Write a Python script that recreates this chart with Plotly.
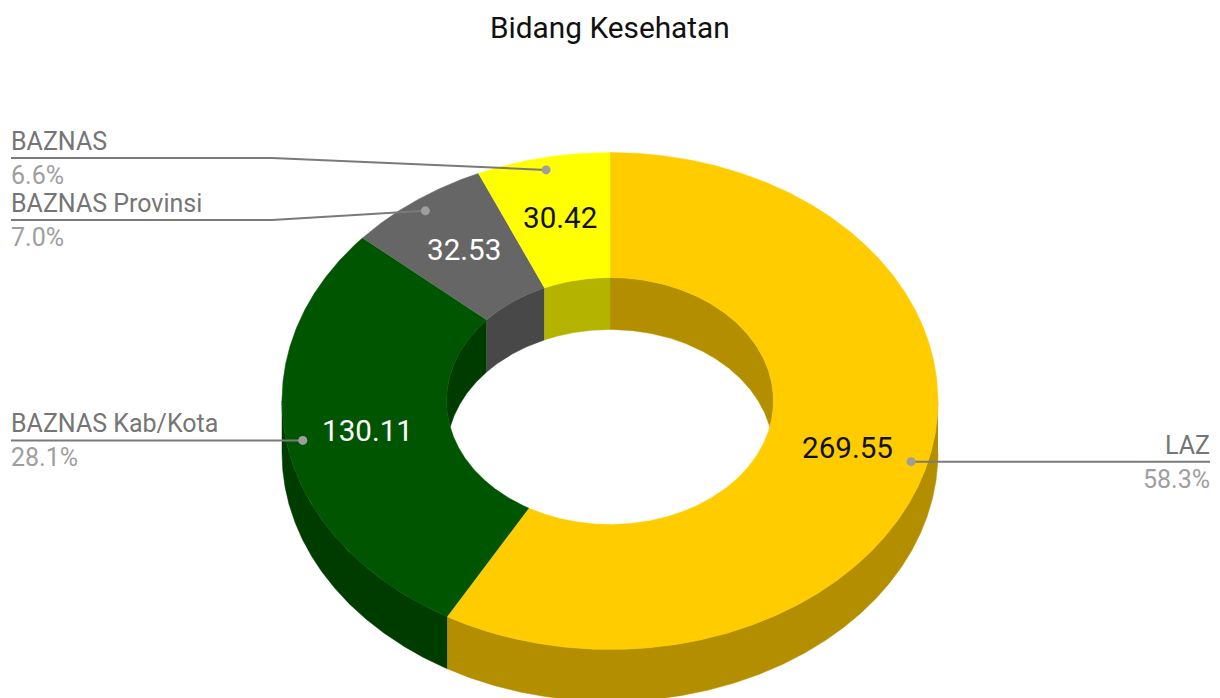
import numpy as np
import plotly.graph_objects as go

title = "Bidang Kesehatan"
categories = ["LAZ", "BAZNAS Kab/Kota", "BAZNAS Provinsi", "BAZNAS"]
values = [269.55, 130.11, 32.53, 30.42]
top_colors = ["#ffcc00", "#005500", "#666666", "#ffff00"]
side_colors = ["#b38f00", "#003c00", "#484848", "#b3b300"]
value_text_colors = ["#111111", "#ffffff", "#ffffff", "#111111"]

W, H = 1220, 698
CX, CY = 610, 401
RX, RY = 328, 248.5
IRX, IRY = 163.5, 123.5
DEPTH = 52
FONT = "Roboto"

total = sum(values)
edges = np.concatenate([[0], np.cumsum(values)]) / total * 2 * np.pi

fig = go.Figure()


def ang(a, b):
    n = max(3, int(abs(b - a) / 0.005))
    return np.linspace(a, b, n)


def add_poly(x, y, color):
    fig.add_trace(go.Scatter(
        x=x, y=y, mode="lines", fill="toself", fillcolor=color,
        line=dict(color=color, width=0.5), hoverinfo="skip", showlegend=False))


# outer wall (front half only)
for i in range(len(values)):
    a, b = max(edges[i], np.pi / 2), min(edges[i + 1], 3 * np.pi / 2)
    if b > a:
        t = ang(a, b)
        xs = CX + RX * np.sin(t)
        ys = CY - RY * np.cos(t)
        add_poly(np.r_[xs, xs[::-1]], np.r_[ys, ys[::-1] + DEPTH], side_colors[i])

# inner wall (back half only, clipped to the hole)
for i in range(len(values)):
    ranges = [(edges[i], min(edges[i + 1], np.pi / 2)),
              (max(edges[i], 3 * np.pi / 2), edges[i + 1])]
    for a, b in ranges:
        if b > a:
            t = ang(a, b)
            xs = CX + IRX * np.sin(t)
            y_top = CY - IRY * np.cos(t)
            y_bot = np.minimum(y_top + DEPTH, CY + IRY * np.cos(t))
            add_poly(np.r_[xs, xs[::-1]], np.r_[y_top, y_bot[::-1]], side_colors[i])

# top face
for i in range(len(values)):
    t = ang(edges[i], edges[i + 1])
    add_poly(np.r_[CX + RX * np.sin(t), CX + IRX * np.sin(t[::-1])],
             np.r_[CY - RY * np.cos(t), CY - IRY * np.cos(t[::-1])], top_colors[i])

# leaders and labels
mids = (edges[:-1] + edges[1:]) / 2
dot_x = CX + 0.95 * RX * np.sin(mids)
dot_y = CY - 0.95 * RY * np.cos(mids)
rule_y = [None, None, 220, 158]
for i in range(len(values)):
    right = np.sin(mids[i]) > 0
    ry = rule_y[i] if rule_y[i] is not None else dot_y[i]
    if right:
        lx, ly = [dot_x[i], 1210], [dot_y[i], dot_y[i]]
    else:
        lx, ly = [11, 272, dot_x[i]], [ry, ry, dot_y[i]]
    fig.add_trace(go.Scatter(x=lx, y=ly, mode="lines", line=dict(color="#7a7a7a", width=2),
                             hoverinfo="skip", showlegend=False))
    fig.add_trace(go.Scatter(x=[dot_x[i]], y=[dot_y[i]], mode="markers",
                             marker=dict(color="#9e9e9e", size=9), hoverinfo="skip", showlegend=False))
    tx = 1212 if right else 9
    anchor = "right" if right else "left"
    ybase = ly[0]
    fig.add_annotation(x=tx, y=ybase - 16.5, text=categories[i], showarrow=False, xanchor=anchor,
                       yanchor="middle", font=dict(family=FONT, size=25, color="#757575"))
    fig.add_annotation(x=tx, y=ybase + 17.5, text=f"{values[i] / total * 100:.1f}%", showarrow=False,
                       xanchor=anchor, yanchor="middle", font=dict(family=FONT, size=25, color="#9e9e9e"))
    # slice value
    fig.add_annotation(x=CX + (RX + IRX) / 2 * np.sin(mids[i]),
                       y=CY - (RY + IRY) / 2 * np.cos(mids[i]) - 1,
                       text=f"{values[i]:.2f}", showarrow=False, xanchor="center", yanchor="middle",
                       font=dict(family=FONT, size=29.6, color=value_text_colors[i]))

fig.add_annotation(x=610, y=27.5, text=title, showarrow=False, xanchor="center", yanchor="middle",
                   font=dict(family=FONT, size=29.8, color="#111111"))

fig.update_layout(
    width=W, height=H, margin=dict(l=0, r=0, t=0, b=0), autosize=False,
    paper_bgcolor="white", plot_bgcolor="white", showlegend=False,
    xaxis=dict(range=[0, W], visible=False, fixedrange=True),
    yaxis=dict(range=[H, 0], visible=False, fixedrange=True),
)
fig.write_html("out.html", config={"displayModeBar": False},
               post_script="document.body.style.margin='0';")
